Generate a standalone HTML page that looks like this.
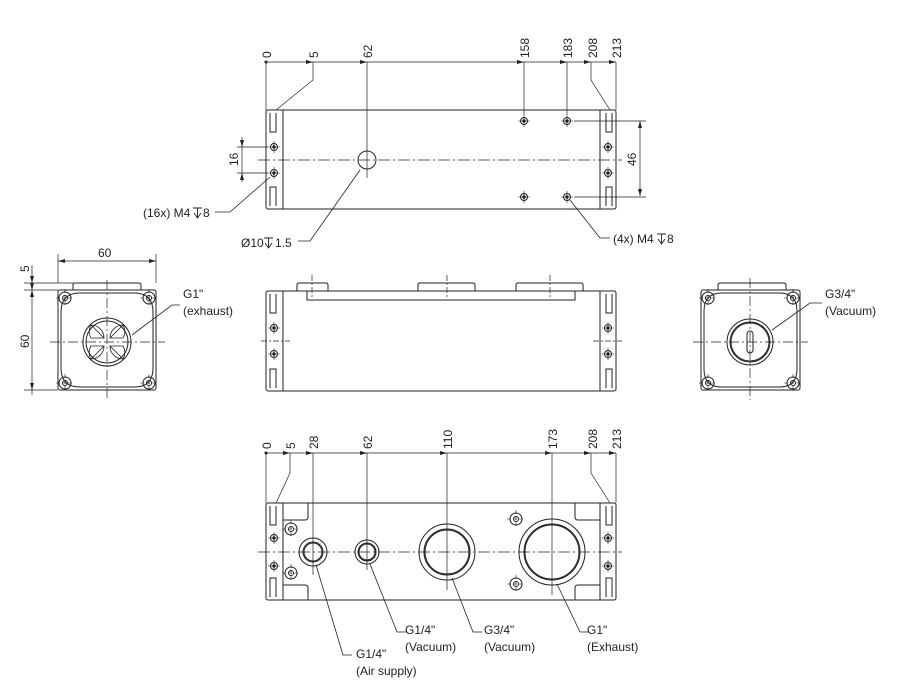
<!DOCTYPE html>
<html><head><meta charset="utf-8"><style>
html,body{margin:0;padding:0;background:#fff}
svg{display:block}
text{font-family:"Liberation Sans",sans-serif;font-size:12px;fill:#222}
</style></head><body>
<svg width="902" height="700" viewBox="0 0 902 700" xmlns="http://www.w3.org/2000/svg">
<defs>
<g id="sh"><circle r="3.5" fill="none" stroke="#222"/><circle r="1.2" fill="#222"/><path d="M-6 0H6M0 -6V6" stroke="#222" stroke-width="0.6"/></g>
<g id="bh"><circle r="6" fill="none" stroke="#222"/><circle r="2.5" fill="none" stroke="#222"/><path d="M-9 0H9M0 -9V9" stroke="#222" stroke-width="0.6" stroke-dasharray="4 2"/></g>
<g id="dp" fill="none" stroke="#222" stroke-width="0.9"><path d="M0 -9H9M4.5 -9V1M1 -4L4.5 1L8 -4"/></g>
</defs>
<g fill="none" stroke="#222" stroke-width="1">
<rect x="266" y="110" width="350" height="99" rx="2"/>
<line x1="283" y1="110" x2="283" y2="209"/><line x1="600" y1="110" x2="600" y2="209"/>
<path d="M270 113V132H276V113M270 206V187H276V206M606 113V132H612V113M606 206V187H612V206"/>
<use href="#sh" x="274" y="147"/><use href="#sh" x="274" y="173"/>
<use href="#sh" x="608" y="147"/><use href="#sh" x="608" y="173"/>
<use href="#sh" x="524" y="121"/><use href="#sh" x="524" y="197"/>
<use href="#sh" x="567" y="121"/><use href="#sh" x="567" y="197"/>
<circle cx="367" cy="160" r="9"/>
<line x1="258" y1="160" x2="622" y2="160" stroke-dasharray="12 3 2 3" stroke-width="0.7"/>
<line x1="367" y1="62" x2="367" y2="178" stroke-width="0.7"/>
<line x1="266" y1="62" x2="616" y2="62" stroke-width="0.7"/>
<path d="M266 62V110M524 62V115M567 62V115M616 62V110M313 62V80L276 110M591 62V80L610 110" stroke-width="0.7"/>
<path d="M242 137V182M237 147H268M237 173H268M640 121V196M574 121H646M574 197H646" stroke-width="0.7"/>
<path d="M215 212H230L270 177M298 241H310L360 170M610 238H600L570 200" stroke-width="0.8"/>
<rect x="266" y="291" width="350" height="100" rx="2"/>
<line x1="283" y1="291" x2="283" y2="391"/><line x1="600" y1="291" x2="600" y2="391"/>
<path d="M297 291V285Q297 283 299 283H326Q328 283 328 285V291M418 291V285Q418 283 420 283H473Q475 283 475 285V291M516 291V285Q516 283 518 283H581Q583 283 583 285V291"/>
<path d="M307 291V300H575V291"/>
<path d="M270 294V313H276V294M270 388V369H276V388M606 294V313H612V294M606 388V369H612V388"/>
<use href="#sh" x="274" y="328"/><use href="#sh" x="274" y="354"/>
<use href="#sh" x="608" y="328"/><use href="#sh" x="608" y="354"/>
<path d="M261 341H290M593 341H622M312 275V298M447 275V298M550 275V298" stroke-width="0.7" stroke-dasharray="6 2 2 2"/>
<rect x="58" y="290" width="98" height="100" rx="2"/>
<path d="M73 290V285Q73 283 75 283H139Q141 283 141 285V290"/>
<path d="M80 293H134Q153 293 153 312V368Q153 387 134 387H80Q61 387 61 368V312Q61 293 80 293Z"/>
<use href="#bh" x="65" y="298"/><use href="#bh" x="149" y="298"/><use href="#bh" x="65" y="383"/><use href="#bh" x="149" y="383"/>
<circle cx="107" cy="342" r="24"/><circle cx="107" cy="342" r="21"/>
<path d="M104 338A13 13 0 0 0 91 325M91 325A13 13 0 0 0 91 338H104Z M110 338A13 13 0 0 1 123 325M123 325A13 13 0 0 1 123 338H110Z M104 346A13 13 0 0 1 91 359M91 359A13 13 0 0 1 91 346H104Z M110 346A13 13 0 0 0 123 359M123 359A13 13 0 0 0 123 346H110Z" stroke-width="0.8"/>
<path d="M50 342H165M107 280V400" stroke-width="0.7" stroke-dasharray="10 3 2 3"/>
<path d="M58 283V254M156 283V254M58 261H156M24 283H73M24 290H58M24 390H58M32 265V395" stroke-width="0.7"/>
<path d="M132 335L172 305H180" stroke-width="0.8"/>
<rect x="701" y="290" width="99" height="100" rx="2"/>
<path d="M718 290V285Q718 283 720 283H784Q786 283 786 285V290"/>
<path d="M722 293H779Q797 293 797 311V369Q797 387 779 387H722Q704 387 704 369V311Q704 293 722 293Z"/>
<use href="#bh" x="708" y="298"/><use href="#bh" x="793" y="298"/><use href="#bh" x="708" y="383"/><use href="#bh" x="793" y="383"/>
<circle cx="750" cy="342" r="23"/><circle cx="750" cy="342" r="20"/><circle cx="750" cy="342" r="19"/>
<rect x="747" y="331" width="6" height="22" rx="3"/>
<path d="M693 342H808M750 278V400" stroke-width="0.7" stroke-dasharray="10 3 2 3"/>
<path d="M772 330L810 303H822" stroke-width="0.8"/>
<rect x="266" y="503" width="350" height="97" rx="2"/>
<line x1="283" y1="503" x2="283" y2="600"/><line x1="600" y1="503" x2="600" y2="600"/>
<path d="M270 506V525H276V506M270 597V578H276V597M606 506V525H612V506M606 597V578H612V597"/>
<path d="M283 520H305Q308 520 308 517V503M283 585H305Q308 585 308 588V600M600 520H578Q575 520 575 517V503M600 585H578Q575 585 575 588V600"/>
<use href="#sh" x="274" y="538"/><use href="#sh" x="274" y="566"/>
<use href="#sh" x="608" y="538"/><use href="#sh" x="608" y="566"/>
<use href="#bh" x="291" y="529"/><use href="#bh" x="291" y="573"/>
<use href="#bh" x="516" y="519"/><use href="#bh" x="516" y="584"/>
<circle cx="313" cy="552" r="14"/><circle cx="313" cy="552" r="10"/><circle cx="313" cy="552" r="9"/>
<circle cx="367" cy="552" r="12"/><circle cx="367" cy="552" r="9"/><circle cx="367" cy="552" r="8"/>
<circle cx="447" cy="552" r="28"/><circle cx="447" cy="552" r="23"/><circle cx="447" cy="552" r="22"/>
<circle cx="552" cy="552" r="33"/><circle cx="552" cy="552" r="28"/><circle cx="552" cy="552" r="27"/>
<line x1="258" y1="552" x2="622" y2="552" stroke-dasharray="12 3 2 3" stroke-width="0.7"/>
<line x1="266" y1="453" x2="616" y2="453" stroke-width="0.7"/>
<path d="M266 453V503M313 453V575M367 453V570M447 453V590M552 453V595M616 453V503M290 453V473L276 503M591 453V473L610 503" stroke-width="0.7"/>
<path d="M316 565L343 655H352M370 564L397 632H406M452 578L473 632H482M557 584L580 632H589" stroke-width="0.8"/>
</g>
<g fill="#222">
<path d="M313 62l-7-2v4z M367 62l-7-2v4z M524 62l-7-2v4z M567 62l-7-2v4z M591 62l-7-2v4z M616 62l-7-2v4z"/>
<path d="M313 453l-7-2v4z M367 453l-7-2v4z M447 453l-7-2v4z M552 453l-7-2v4z M591 453l-7-2v4z M616 453l-7-2v4z M290 453l-7-2v4z"/>
<circle cx="266" cy="62" r="1.5"/><circle cx="266" cy="453" r="1.5"/>
<path d="M58 261l7-2v4z M156 261l-7-2v4z M32 290l-2-7h4z M32 390l-2-7h4z M32 290l-2 7h4z M32 283l-2-7h4z"/>
<path d="M640 121l-2 7h4z M640 196l-2-7h4z M242 147l-2-7h4z M242 173l-2 7h4z"/>
</g>
<use href="#dp" x="193" y="217"/>
<use href="#dp" x="264" y="247"/>
<use href="#dp" x="657" y="243"/>
<g font-size="12">
<text transform="translate(271 58) rotate(-90)">0</text>
<text transform="translate(318 58) rotate(-90)">5</text>
<text transform="translate(372 58) rotate(-90)">62</text>
<text transform="translate(529 58) rotate(-90)">158</text>
<text transform="translate(572 58) rotate(-90)">183</text>
<text transform="translate(597 58) rotate(-90)">208</text>
<text transform="translate(621 58) rotate(-90)">213</text>
<text transform="translate(238 166) rotate(-90)">16</text>
<text transform="translate(636 166) rotate(-90)">46</text>
<text x="143" y="217">(16x) M4</text><text x="203" y="217">8</text>
<text x="241" y="247">Ø10</text><text x="275" y="247">1.5</text>
<text x="613" y="243">(4x) M4</text><text x="667" y="243">8</text>
<text x="98" y="257">60</text>
<text transform="translate(29 272) rotate(-90)">5</text>
<text transform="translate(29 348) rotate(-90)">60</text>
<text x="183" y="298">G1"</text>
<text x="183" y="315">(exhaust)</text>
<text x="825" y="298">G3/4"</text>
<text x="825" y="315">(Vacuum)</text>
<text transform="translate(271 449) rotate(-90)">0</text>
<text transform="translate(295 449) rotate(-90)">5</text>
<text transform="translate(318 449) rotate(-90)">28</text>
<text transform="translate(372 449) rotate(-90)">62</text>
<text transform="translate(452 449) rotate(-90)">110</text>
<text transform="translate(557 449) rotate(-90)">173</text>
<text transform="translate(597 449) rotate(-90)">208</text>
<text transform="translate(621 449) rotate(-90)">213</text>
<text x="356" y="658">G1/4"</text>
<text x="356" y="675">(Air supply)</text>
<text x="405" y="634">G1/4"</text>
<text x="405" y="651">(Vacuum)</text>
<text x="484" y="634">G3/4"</text>
<text x="484" y="651">(Vacuum)</text>
<text x="587" y="634">G1"</text>
<text x="587" y="651">(Exhaust)</text>
</g>
</svg>
</body></html>
